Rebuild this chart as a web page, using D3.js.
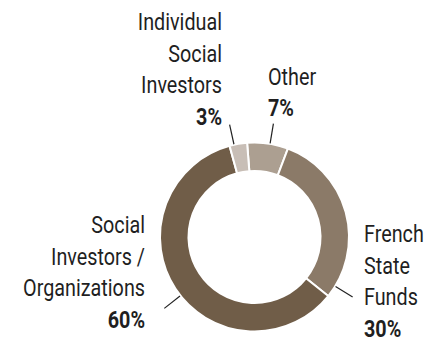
<!DOCTYPE html>
<html>
<head>
<meta charset="utf-8">
<script src="https://cdn.jsdelivr.net/npm/d3@7"></script>
<style>
  html, body { margin: 0; padding: 0; background: #fff; }
  svg { display: block; }
  text { font-family: Roboto, "Noto Sans", sans-serif; fill: #1f1f1f; }
</style>
</head>
<body>
<svg id="chart" width="430" height="342"></svg>
<script>
// Capital breakdown by shareholder type (percent)
const categories = ["Other", "French State Funds", "Social Investors / Organizations", "Individual Social Investors"];
const labelLines = [["Other"], ["French", "State", "Funds"], ["Social", "Investors /", "Organizations"], ["Individual", "Social", "Investors"]];
const shares = [7, 30, 60, 3];
const colors = ["#ac9f91", "#8b7a68", "#705d48", "#c8beb6"];

const svg = d3.select("#chart");
const cx = 254.5, cy = 237;
const outerR = 94.5, innerR = 66;
const rotation = -4.5 * Math.PI / 180;

const pie = d3.pie().sort(null).value(d => d)
  .startAngle(rotation).endAngle(rotation + 2 * Math.PI);
const arcs = pie(shares);

const arc = d3.arc().innerRadius(innerR).outerRadius(outerR);

const g = svg.append("g").attr("transform", `translate(${cx},${cy})`);

g.selectAll("path.slice")
  .data(arcs)
  .join("path")
  .attr("class", "slice")
  .attr("d", arc)
  .attr("fill", (d, i) => colors[i])
  .attr("stroke", "#fff")
  .attr("stroke-width", 2);

// Label blocks: anchor x, first baseline, alignment and the point the leader aims at
const lineH = 31.5;
const layout = [
  { x: 268, y: 84.5, anchor: "start", ax: 274, ay: 120 },
  { x: 364, y: 242, anchor: "start", ax: 356, ay: 299 },
  { x: 145, y: 233, anchor: "end", ax: 161, ay: 311 },
  { x: 222, y: 30, anchor: "end", ax: 229, ay: 122 }
];

const squeeze = 0.86; // narrow the face to a condensed width

arcs.forEach((a, i) => {
  const L = layout[i];
  const lines = labelLines[i];
  const grp = svg.append("g").attr("class", "label");
  lines.forEach((t, j) => {
    grp.append("text")
      .attr("transform", `translate(${L.x},${L.y + j * lineH}) scale(${squeeze},1)`)
      .attr("text-anchor", L.anchor)
      .style("font-size", "23px")
      .text(t);
  });
  grp.append("text")
    .attr("transform", `translate(${L.x},${L.y + lines.length * lineH}) scale(${squeeze},1)`)
    .attr("text-anchor", L.anchor)
    .style("font-size", "23px")
    .style("font-weight", "bold")
    .text(d3.format(".0f")(a.data) + "%");

  // leader from the ring edge toward the label
  const ang = Math.atan2(L.ax - cx, cy - L.ay);
  const r0 = 95, r1 = 115;
  g.append("line")
    .attr("x1", r0 * Math.sin(ang)).attr("y1", -r0 * Math.cos(ang))
    .attr("x2", r1 * Math.sin(ang)).attr("y2", -r1 * Math.cos(ang))
    .attr("stroke", "#222")
    .attr("stroke-width", 1.2);
});
</script>
</body>
</html>
